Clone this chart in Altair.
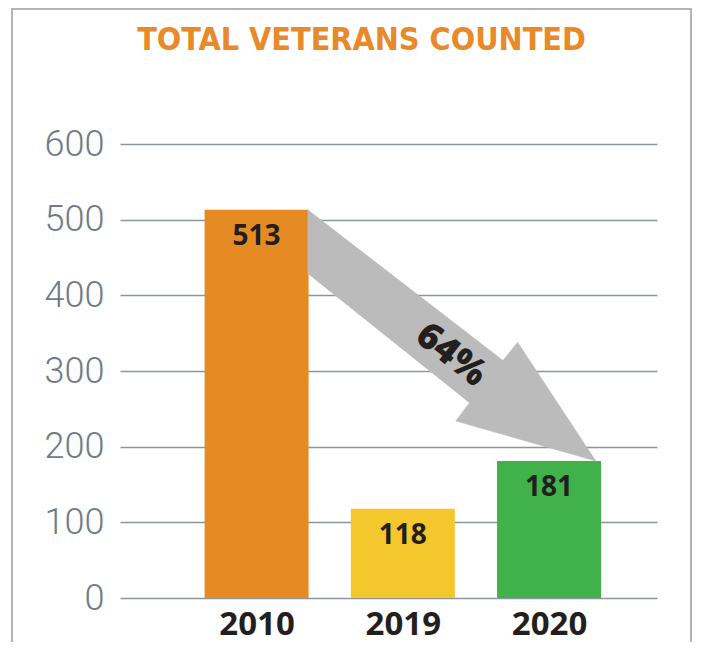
import altair as alt
import pandas as pd

# ---- data ----
years = ["2010", "2019", "2020"]
counts = [513, 118, 181]
bar_colors = ["#E68A24", "#F4C72C", "#41B24A"]

# arrow annotation (x in bar-slot units, y in value units)
arrow_x = [0.35, 1.685, 1.785, 2.32, 1.362, 1.456, 0.35, 0.35]
arrow_y = [513, 314, 338, 181, 234, 258, 429, 513]
arrow_label = ["64%"]
arrow_label_x = [1.33]
arrow_label_y = [321]

pos = list(range(len(years)))
bars_df = pd.DataFrame({"pos": pos, "year": years, "count": counts})
arrow_df = pd.DataFrame({"ax": arrow_x, "ay": arrow_y, "ord": list(range(len(arrow_x)))})
lab_df = pd.DataFrame({"lx": arrow_label_x, "ly": arrow_label_y, "t": arrow_label})

x_scale = alt.Scale(domain=[-0.90, 2.704], nice=False, zero=False)
y_scale = alt.Scale(domain=[0, 600], nice=False)

label_expr = "[" + ",".join("'%s'" % y for y in years) + "][datum.value]"

base = alt.Chart(bars_df)

bars = base.mark_bar(size=104).encode(
    x=alt.X("pos:Q", scale=x_scale,
            axis=alt.Axis(values=pos, labelExpr=label_expr, title=None, grid=False,
                          domain=False, ticks=False, labelPadding=10,
                          labelFont="Open Sans", labelFontWeight="bold",
                          labelFontSize=33, labelColor="#231F20")),
    y=alt.Y("count:Q", scale=y_scale,
            axis=alt.Axis(values=[0, 100, 200, 300, 400, 500, 600], title=None,
                          grid=True, gridColor="#8C96A0", gridWidth=1.5,
                          domain=False, ticks=False, labelPadding=16,
                          labelFont="Roboto", labelFontWeight=300,
                          labelFontSize=36, labelColor="#6F7B88")),
    color=alt.Color("year:N", scale=alt.Scale(domain=years, range=bar_colors), legend=None),
)

bar_text = base.mark_text(baseline="top", dy=13, font="Open Sans", fontWeight="bold",
                          fontSize=28, color="#231F20").encode(
    x=alt.X("pos:Q", scale=x_scale),
    y=alt.Y("count:Q", scale=y_scale),
    text="count:Q",
)

arrow = alt.Chart(arrow_df).mark_line(fill="#BBBBBB", stroke="#BBBBBB", strokeWidth=0.5,
                                      opacity=1).encode(
    x=alt.X("ax:Q", scale=x_scale),
    y=alt.Y("ay:Q", scale=y_scale),
    order="ord:Q",
)

arrow_text = alt.Chart(lab_df).mark_text(angle=38, font="Open Sans", fontWeight=800,
                                         fontSize=37, color="#231F20").encode(
    x=alt.X("lx:Q", scale=x_scale),
    y=alt.Y("ly:Q", scale=y_scale),
    text="t:N",
)

border = alt.Chart(bars_df).mark_rect(filled=False, stroke="#B4B4B4", strokeWidth=2).encode(
    x=alt.value(-108), x2=alt.value(571), y=alt.value(-135), y2=alt.value(700)
)

chart = alt.layer(border, bars, arrow, arrow_text, bar_text).properties(
    width=537, height=454,
    title=alt.TitleParams("TOTAL VETERANS COUNTED", font="DejaVu Sans Condensed",
                          fontWeight="bold", fontSize=32, color="#E8892A",
                          anchor="middle", frame="group", dx=-27, offset=-49),
    padding={"left": 112, "top": 136, "right": 36, "bottom": 44},
    autosize=alt.AutoSizeParams(type="none"),
).configure_view(stroke=None)

chart.save("out.html", embed_options={"renderer": "svg", "actions": False})
